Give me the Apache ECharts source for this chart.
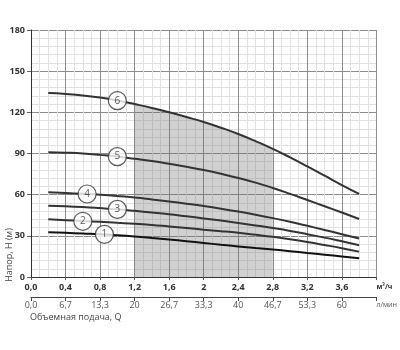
<!DOCTYPE html>
<html>
<head>
<meta charset="utf-8">
<script src="https://cdn.jsdelivr.net/npm/echarts@6/dist/echarts.min.js"></script>
<style>
  html, body { margin: 0; padding: 0; background: #fff; }
  #chart { width: 400px; height: 350px; }
</style>
</head>
<body>
<div id="chart"></div>
<script>
// Flow rate, m³/h, where each pump curve is sampled
const flow = [0.2, 0.4, 0.6, 0.8, 1.0, 1.2, 1.4, 1.6, 1.8, 2.0, 2.2, 2.4, 2.6, 2.8, 3.0, 3.2, 3.4, 3.6, 3.8];

// Head, m, for pump models 1..6
const head1 = [32.6, 32.2, 31.7, 31.2, 30.5, 29.6, 28.5, 27.3, 26.1, 24.8, 23.5, 22.3, 21.1, 20.0, 18.8, 17.5, 16.3, 15.0, 13.6];
const head2 = [42.0, 41.4, 40.8, 40.2, 39.5, 38.8, 37.9, 36.8, 35.7, 34.5, 33.4, 32.2, 30.8, 29.3, 27.5, 25.5, 23.3, 21.0, 18.5];
const head3 = [52.0, 51.6, 51.0, 50.2, 49.3, 48.2, 47.0, 45.7, 44.2, 42.7, 41.1, 39.4, 37.6, 35.7, 33.6, 31.2, 28.7, 26.0, 23.2];
const head4 = [61.7, 61.2, 60.6, 59.9, 59.0, 57.9, 56.5, 55.0, 53.4, 51.7, 49.8, 47.7, 45.4, 42.9, 40.2, 37.3, 34.3, 31.2, 28.0];
const head5 = [91.0, 90.6, 90.0, 89.0, 87.8, 86.2, 84.5, 82.5, 80.3, 77.9, 75.2, 72.2, 68.8, 64.9, 60.6, 56.1, 51.6, 47.0, 42.3];
const head6 = [134.0, 133.4, 132.3, 130.8, 128.6, 126.0, 123.2, 120.0, 116.6, 113.0, 108.8, 104.2, 99.0, 93.4, 87.2, 80.6, 73.8, 67.0, 60.5];

// Curve numbers and where their badges sit
const curveNames = ['1', '2', '3', '4', '5', '6'];
const badgeFlow = [0.85, 0.6, 1.0, 0.65, 1.0, 1.0];
const badgeHead = [31.1, 40.6, 49.3, 60.5, 87.7, 128.5];

// Recommended working range (shaded under curve 6)
const workFrom = 1.2;
const workTo = 2.8;

// Tick labels
const flowTicks = ['0,0', '0,4', '0,8', '1,2', '1,6', '2', '2,4', '2,8', '3,2', '3,6'];
const flowUnit = 'м³/ч';
const litreTicks = ['0,0', '6,7', '13,3', '20', '26,7', '33,3', '40', '46,7', '53,3', '60'];
const litreUnit = 'л/мин';
const headTicks = [0, 30, 60, 90, 120, 150, 180];

const heads = [head1, head2, head3, head4, head5, head6];
const FONT = '"Open Sans", "DejaVu Sans", sans-serif';

const chart = echarts.init(document.getElementById('chart'), null, { renderer: 'canvas' });

const curveSeries = heads.map((h, i) => ({
  type: 'line',
  name: curveNames[i],
  xAxisIndex: 0,
  yAxisIndex: 0,
  data: flow.map((q, k) => [q, h[k]]),
  smooth: true,
  showSymbol: false,
  silent: true,
  z: 3,
  lineStyle: { color: i === 0 ? '#111' : '#333', width: 2 }
}));

const workArea = {
  type: 'line',
  xAxisIndex: 0,
  yAxisIndex: 0,
  data: flow.map((q, k) => [q, head6[k]]).filter(p => p[0] >= workFrom - 1e-9 && p[0] <= workTo + 1e-9),
  smooth: true,
  showSymbol: false,
  silent: true,
  z: 1,
  lineStyle: { width: 0 },
  areaStyle: { color: 'rgba(105,105,105,0.44)', origin: 'start' }
};

const badges = {
  type: 'scatter',
  xAxisIndex: 0,
  yAxisIndex: 0,
  data: curveNames.map((n, i) => ({ value: [badgeFlow[i], badgeHead[i]], name: n })),
  symbol: 'circle',
  symbolSize: 18,
  silent: true,
  z: 5,
  itemStyle: { color: '#fff', borderColor: '#333', borderWidth: 1.2 },
  label: {
    show: true,
    position: 'inside',
    formatter: p => p.name,
    color: '#333',
    fontFamily: FONT,
    fontSize: 10
  }
};

chart.setOption({
  animation: false,
  backgroundColor: '#fff',
  grid: { left: 31, right: 21, top: 30, bottom: 73, containLabel: false },
  xAxis: [
    {
      type: 'value',
      position: 'bottom',
      min: 0, max: 4, interval: 0.4,
      axisLine: { show: true, onZero: false, lineStyle: { color: '#333', width: 1 } },
      axisTick: { show: true, length: 3, lineStyle: { color: '#555' } },
      axisLabel: {
        margin: 6,
        color: '#333',
        fontFamily: FONT,
        fontSize: 9,
        fontWeight: 'bold',
        alignMaxLabel: 'left',
        formatter: v => {
          const i = Math.round(v / 0.4);
          return i < flowTicks.length ? flowTicks[i] : '{u|' + flowUnit + '}';
        },
        rich: { u: { fontSize: 7, fontFamily: FONT, color: '#333', fontWeight: 'bold' } }
      },
      splitLine: { show: true, lineStyle: { color: '#8c8c8c', width: 1 } },
      minorTick: { show: false, splitNumber: 4 },
      minorSplitLine: { show: true, lineStyle: { color: '#e2e2e2', width: 1 } }
    },
    {
      type: 'value',
      position: 'bottom',
      offset: 20,
      min: 0, max: 4, interval: 0.4,
      axisLine: { show: true, onZero: false, lineStyle: { color: '#444', width: 1 } },
      axisTick: { show: true, inside: false, length: 4, lineStyle: { color: '#444' } },
      axisLabel: {
        margin: 4,
        color: '#555',
        fontFamily: FONT,
        fontSize: 9,
        alignMaxLabel: 'left',
        formatter: v => {
          const i = Math.round(v / 0.4);
          return i < litreTicks.length ? litreTicks[i] : '{u|' + litreUnit + '}';
        },
        rich: { u: { fontSize: 7, fontFamily: FONT, color: '#555' } }
      },
      splitLine: { show: false }
    }
  ],
  yAxis: {
    type: 'value',
    min: headTicks[0], max: headTicks[headTicks.length - 1], interval: 30,
    axisLine: { show: true, onZero: false, lineStyle: { color: '#333', width: 1 } },
    axisTick: { show: true, length: 4, lineStyle: { color: '#666' } },
    axisLabel: {
      margin: 6,
      color: '#333',
      fontFamily: FONT,
      fontSize: 9,
      fontWeight: 'bold',
      formatter: v => headTicks.includes(v) ? String(v) : ''
    },
    splitLine: { show: true, lineStyle: { color: '#8c8c8c', width: 1 } },
    minorTick: { show: false, splitNumber: 5 },
    minorSplitLine: { show: true, lineStyle: { color: '#e2e2e2', width: 1 } }
  },
  graphic: [
    {
      type: 'text',
      left: 30,
      top: 313,
      style: { text: 'Объемная подача, Q', fill: '#444', font: '9px ' + FONT }
    },
    {
      type: 'text',
      x: 9,
      y: 255,
      rotation: Math.PI / 2,
      style: {
        text: 'Напор, H (м)',
        fill: '#444',
        font: '9px ' + FONT,
        textAlign: 'center',
        textVerticalAlign: 'middle'
      }
    }
  ],
  series: [workArea, ...curveSeries, badges]
});
</script>
</body>
</html>
